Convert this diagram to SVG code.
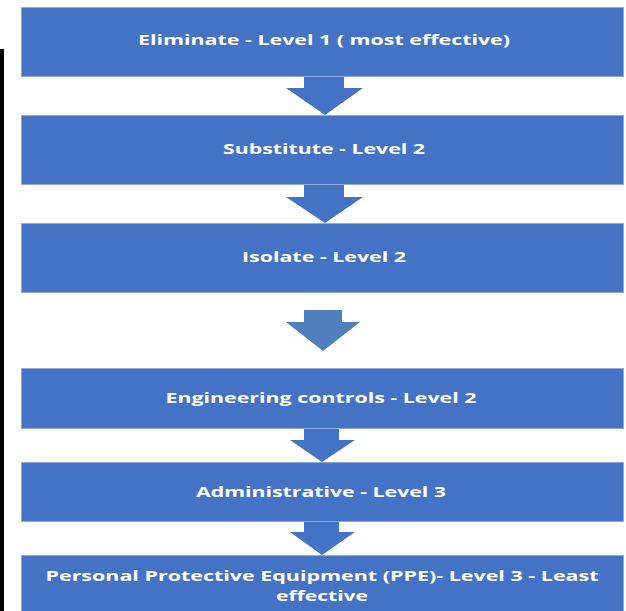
<svg xmlns="http://www.w3.org/2000/svg" width="626" height="611" viewBox="0 0 626 611">
<style>
.box{fill:#4472c4;stroke:#8eaadb;stroke-width:1}
.arr{fill:#4472c4}
.arr2{fill:#4f7fbf}
.t{font-family:"Open Sans","Liberation Sans",sans-serif;font-weight:bold;font-size:15px;fill:#ffffff;text-anchor:middle}
</style>
<rect x="0" y="0" width="626" height="611" fill="#ffffff"/>
<rect x="0" y="49" width="4" height="562" fill="#000000"/>
<g id="connectors">
<path class="arr" d="M304,77 H344 V88 H363 L325,115 L286,88 H304 Z"/>
<path class="arr" d="M304,184 H344 V197 H363 L325,223 L286,197 H304 Z"/>
<path class="arr2" d="M304,310 H342 V322 H360 L323,351 L286,322 H304 Z"/>
<path class="arr" d="M304,428 H339 V440 H355 L322,462 L290,440 H304 Z"/>
<path class="arr" d="M304,521 H339 V532 H355 L322,555 L290,532 H304 Z"/>
</g>
<g id="n1"><rect class="box" x="21.5" y="7.5" width="602" height="69"/><text class="t" x="324" y="45" textLength="372" lengthAdjust="spacingAndGlyphs">Eliminate - Level 1 ( most effective)</text></g>
<g id="n2"><rect class="box" x="21.5" y="115.5" width="602" height="69"/><text class="t" x="324" y="154" textLength="202" lengthAdjust="spacingAndGlyphs">Substitute - Level 2</text></g>
<g id="n3"><rect class="box" x="21.5" y="223.5" width="602" height="69"/><text class="t" x="324" y="262" textLength="164" lengthAdjust="spacingAndGlyphs">Isolate - Level 2</text></g>
<g id="n4"><rect class="box" x="21.5" y="368.5" width="602" height="60"/><text class="t" x="321" y="403" textLength="311" lengthAdjust="spacingAndGlyphs">Engineering controls - Level 2</text></g>
<g id="n5"><rect class="box" x="21.5" y="462.5" width="602" height="59"/><text class="t" x="321" y="497" textLength="250" lengthAdjust="spacingAndGlyphs">Administrative - Level 3</text></g>
<g id="n6"><rect class="box" x="21.5" y="555.5" width="602" height="60"/><text class="t" x="322" y="581" textLength="553" lengthAdjust="spacingAndGlyphs">Personal Protective Equipment (PPE)- Level 3 - Least</text><text class="t" x="322" y="601" textLength="92" lengthAdjust="spacingAndGlyphs">effective</text></g>
</svg>
